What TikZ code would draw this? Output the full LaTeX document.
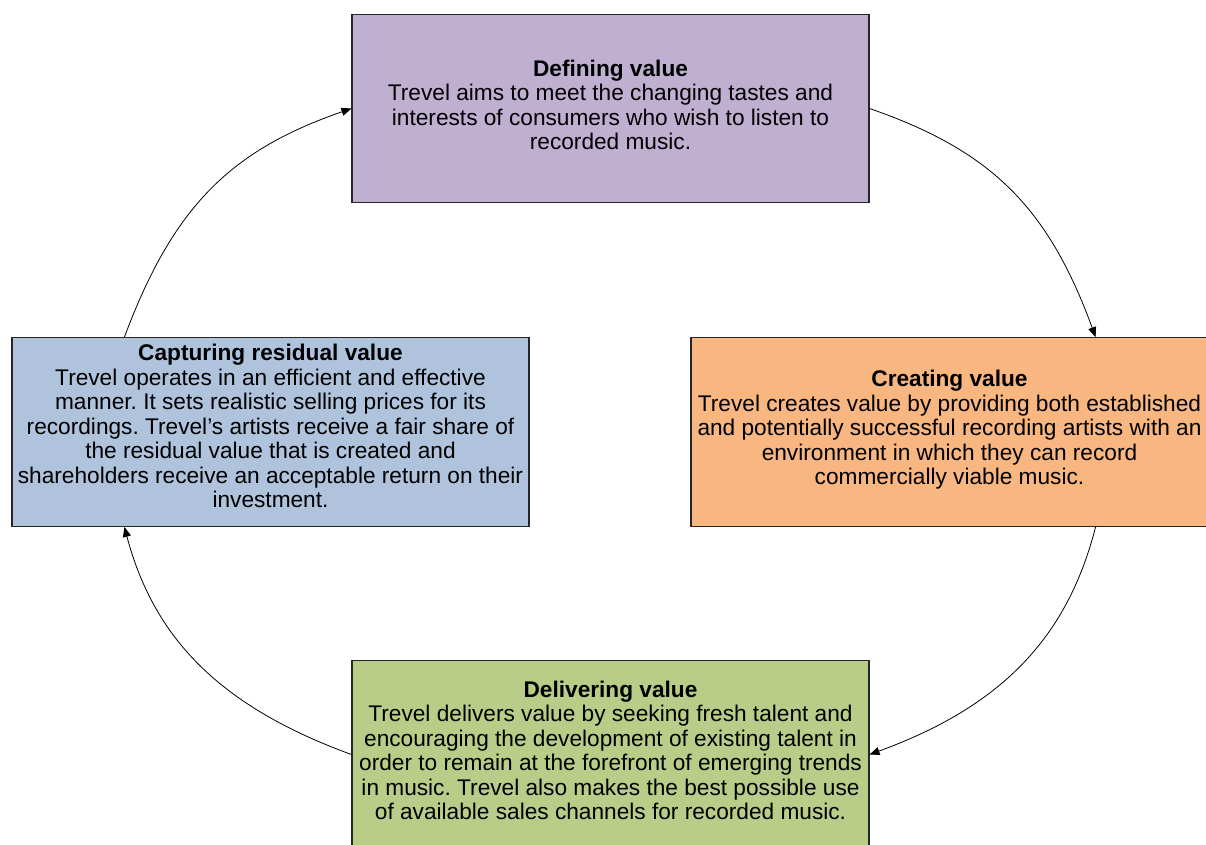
\documentclass[tikz,border=0pt]{standalone}
\usepackage{fontspec}
\setmainfont{Liberation Sans}
\usetikzlibrary{arrows.meta}
\definecolor{defc}{RGB}{191,176,210}
\definecolor{capc}{RGB}{176,195,221}
\definecolor{crec}{RGB}{248,182,129}
\definecolor{delc}{RGB}{185,205,136}
\newcommand{\lowstrut}[1]{\rule[-#1]{0pt}{0pt}}
\begin{document}
\frenchspacing
\begin{tikzpicture}[x=0.75pt,y=-0.75pt,
  box/.style={draw=black!85, line width=0.8pt, minimum width=387.75pt, minimum height=141.5pt,
    inner sep=0pt, align=center, font=\fontsize{17}{18.35}\selectfont},
  arr/.style={draw=black, line width=0.6pt, -{Triangle[length=7.5pt,width=6pt]}}]
\useasboundingbox (0,0) rectangle (1206,844);
\node[box, fill=defc] (def) at (610.5,108.5) {\textbf{Defining value}\\Trevel aims to meet the changing tastes and\\interests of consumers who wish to listen to\\recorded music.\lowstrut{5.5pt}};
\node[box, fill=capc] (cap) at (270.5,432) {\textbf{Capturing residual value}\\Trevel operates in an efficient and effective\\manner. It sets realistic selling prices for its\\recordings. Trevel’s artists receive a fair share of\\the residual value that is created~and\\shareholders receive an acceptable return on their\\investment.\lowstrut{8.75pt}};
\node[box, fill=crec] (cre) at (949.5,432) {\textbf{Creating value}\\Trevel creates value by providing both established\\and potentially successful recording artists with an\\environment in which they can record\\commercially viable music.\lowstrut{6.5pt}};
\node[box, fill=delc] (del) at (610.5,754.5) {\textbf{Delivering value}\\Trevel delivers value by seeking fresh talent and\\encouraging the development of existing talent in\\order to remain at the forefront of emerging~trends\\in music. Trevel also makes the best possible use\\of available sales channels for recorded music.\lowstrut{6.5pt}};
\draw[arr] (def.east) .. controls (991,150.5) and (1048,207) .. (cre.33);
\draw[arr] (cre.-33) .. controls (1067,639) and (1000,707) .. (del.east);
\draw[arr] (del.west) .. controls (221,707) and (154,639) .. (cap.213);
\draw[arr] (cap.147) .. controls (173,207) and (230,150.5) .. (def.west);
\end{tikzpicture}
\end{document}
